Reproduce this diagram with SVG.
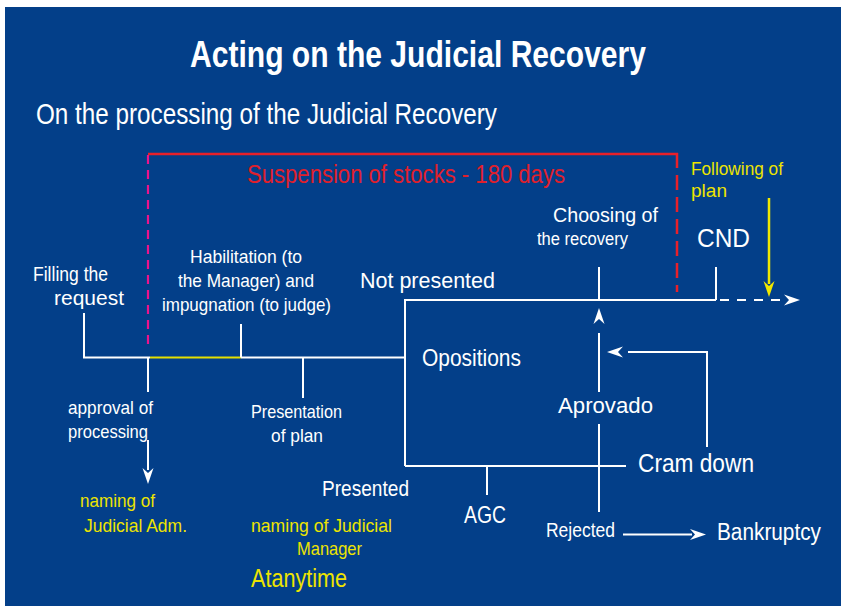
<svg xmlns="http://www.w3.org/2000/svg" width="841" height="611" viewBox="0 0 841 611">
<style>
text{font-family:"Liberation Sans",Arial,sans-serif;fill:#fff}
.y{fill:#ede400}
.r{fill:#e0202c}
.b{font-weight:bold}
.ln{fill:none;stroke:#fff;stroke-width:2}
.ah{fill:#fff}
</style>
<defs>
<path id="ahead" d="M0,0 L-16,-5.5 L-11,0 L-16,5.5 Z"/>
</defs>
<rect x="0" y="0" width="841" height="611" fill="#fff"/>
<rect x="5" y="7" width="836" height="599" fill="#033f89"/>
<g id="title">
<text class="b" x="190" y="67" font-size="36" textLength="456" lengthAdjust="spacingAndGlyphs">Acting on the Judicial Recovery</text>
<text x="36" y="124" font-size="29" textLength="461" lengthAdjust="spacingAndGlyphs">On the processing of the Judicial Recovery</text>
</g>
<g id="connectors">
<path d="M148,154 H678" fill="none" stroke="#e8202a" stroke-width="2.5"/>
<path d="M677,153 V292" fill="none" stroke="#e8202a" stroke-width="2.5" stroke-dasharray="15,7"/>
<path d="M148,155 V350" fill="none" stroke="#ec138c" stroke-width="2.2" stroke-dasharray="9,6"/>
<path class="ln" d="M84,313 V357.5 H150"/>
<path d="M150,357.5 H241" fill="none" stroke="#e4e000" stroke-width="2"/>
<path class="ln" d="M241,357.5 H405"/>
<path class="ln" d="M241,324 V357.5"/>
<path class="ln" d="M148,357.5 V392"/>
<path class="ln" d="M148,440 V470"/>
<use href="#ahead" class="ah" transform="translate(148,484) rotate(90)"/>
<path class="ln" d="M303,357.5 V398"/>
<path class="ln" d="M405,466 V300 H716"/>
<path class="ln" d="M405,466 H626"/>
<path class="ln" d="M487,466 V495"/>
<path class="ln" d="M599,267 V300"/>
<use href="#ahead" class="ah" transform="translate(599,308) rotate(-90)"/>
<path class="ln" d="M599,333 V392"/>
<path class="ln" d="M599,424 V512"/>
<path class="ln" d="M707,447 V352 H628"/>
<use href="#ahead" class="ah" transform="translate(607,352) rotate(180)"/>
<path class="ln" d="M716,267 V300"/>
<path class="ln" d="M720,300 H784" stroke-dasharray="9,8"/>
<use href="#ahead" class="ah" transform="translate(800,300)"/>
<path class="ln" d="M623,534.5 H692"/>
<use href="#ahead" class="ah" transform="translate(706,534.5)"/>
<path d="M769,198 V284" fill="none" stroke="#f0e800" stroke-width="2.5"/>
<use href="#ahead" fill="#f0e800" transform="translate(769,297) rotate(90)"/>
</g>
<g id="suspension"><text class="r" x="247" y="183" font-size="25" textLength="318" lengthAdjust="spacingAndGlyphs">Suspension of stocks - 180 days</text></g>
<g id="filling">
<text x="33" y="281" font-size="19.5" textLength="75" lengthAdjust="spacingAndGlyphs">Filling the</text>
<text x="54" y="305" font-size="21" textLength="70" lengthAdjust="spacingAndGlyphs">request</text>
</g>
<g id="habilitation" xml:space="preserve">
<text x="190" y="262.5" font-size="18.5" textLength="112" lengthAdjust="spacingAndGlyphs">Habilitation  (to</text>
<text x="178" y="286.5" font-size="18.5" textLength="136" lengthAdjust="spacingAndGlyphs">the Manager)  and</text>
<text x="162" y="310.5" font-size="18.5" textLength="169" lengthAdjust="spacingAndGlyphs">impugnation  (to judge)</text>
</g>
<g id="notpresented"><text x="360" y="288" font-size="22" textLength="135" lengthAdjust="spacingAndGlyphs">Not presented</text></g>
<g id="choosing">
<text x="553" y="221.5" font-size="19.5" textLength="105" lengthAdjust="spacingAndGlyphs">Choosing of</text>
<text x="537" y="245" font-size="17.5" textLength="91" lengthAdjust="spacingAndGlyphs">the recovery</text>
</g>
<g id="following">
<text class="y" x="691" y="175" font-size="18.5" textLength="92" lengthAdjust="spacingAndGlyphs">Following of</text>
<text class="y" x="691" y="196.5" font-size="18.5" textLength="36" lengthAdjust="spacingAndGlyphs">plan</text>
</g>
<g id="cnd"><text x="697" y="246.5" font-size="26" textLength="53" lengthAdjust="spacingAndGlyphs">CND</text></g>
<g id="opositions"><text x="422" y="366" font-size="24" textLength="99" lengthAdjust="spacingAndGlyphs">Opositions</text></g>
<g id="aprovado"><text x="558" y="413" font-size="22.5" textLength="95" lengthAdjust="spacingAndGlyphs">Aprovado</text></g>
<g id="cramdown"><text x="638" y="471.5" font-size="25" textLength="116" lengthAdjust="spacingAndGlyphs">Cram down</text></g>
<g id="agc"><text x="464" y="523" font-size="24.5" textLength="42" lengthAdjust="spacingAndGlyphs">AGC</text></g>
<g id="rejected"><text x="546" y="537" font-size="20.5" textLength="69" lengthAdjust="spacingAndGlyphs">Rejected</text></g>
<g id="bankruptcy"><text x="717" y="540" font-size="23.5" textLength="104" lengthAdjust="spacingAndGlyphs">Bankruptcy</text></g>
<g id="approval" xml:space="preserve">
<text x="68" y="414" font-size="18.5" textLength="85" lengthAdjust="spacingAndGlyphs">approval  of</text>
<text x="68" y="438" font-size="18.5" textLength="80" lengthAdjust="spacingAndGlyphs">processing</text>
</g>
<g id="presentation">
<text x="251" y="418" font-size="18.5" textLength="91" lengthAdjust="spacingAndGlyphs">Presentation</text>
<text x="271" y="441.5" font-size="18.5" textLength="52" lengthAdjust="spacingAndGlyphs">of plan</text>
</g>
<g id="presented"><text x="322" y="495.5" font-size="22.5" textLength="87" lengthAdjust="spacingAndGlyphs">Presented</text></g>
<g id="namingadm">
<text class="y" x="80" y="506.5" font-size="18.5" textLength="75" lengthAdjust="spacingAndGlyphs">naming of</text>
<text class="y" x="84" y="531.5" font-size="18.5" textLength="103" lengthAdjust="spacingAndGlyphs">Judicial Adm.</text>
</g>
<g id="namingmanager">
<text class="y" x="251" y="531.5" font-size="18.5" textLength="141" lengthAdjust="spacingAndGlyphs">naming of Judicial</text>
<text class="y" x="297" y="555" font-size="18.5" textLength="65" lengthAdjust="spacingAndGlyphs">Manager</text>
<text class="y" x="251" y="586.5" font-size="25" textLength="96" lengthAdjust="spacingAndGlyphs">Atanytime</text>
</g>
</svg>
